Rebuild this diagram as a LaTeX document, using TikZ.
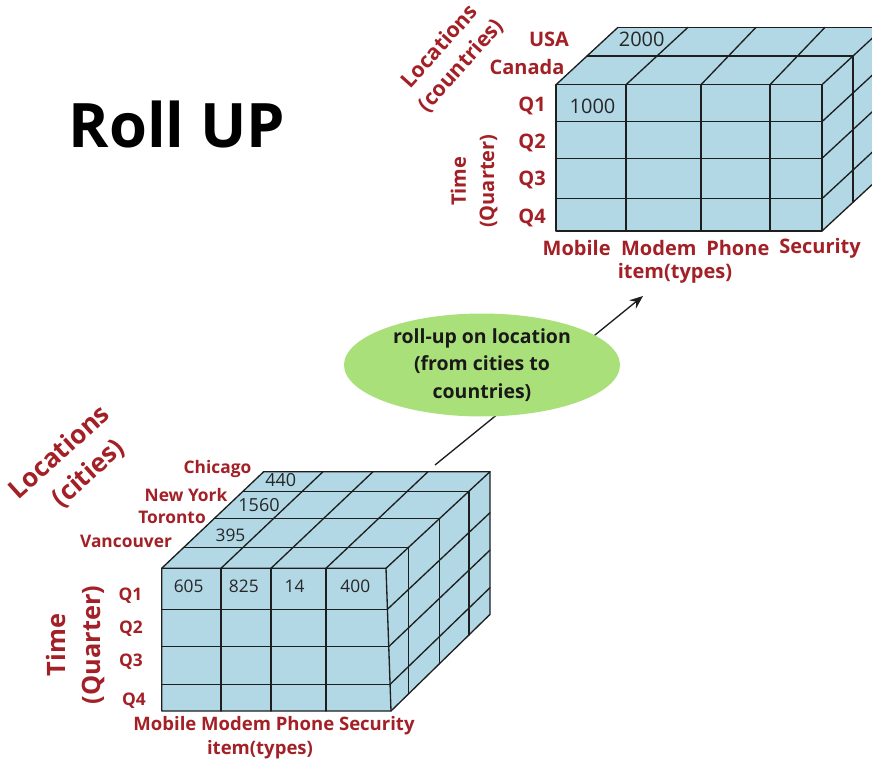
\documentclass[tikz,border=0pt]{standalone}
\usepackage{fontspec}
\setmainfont{Open Sans}
\usetikzlibrary{shapes.geometric,arrows.meta}
\definecolor{labred}{RGB}{163,32,38}
\definecolor{cubeblue}{RGB}{178,216,230}
\definecolor{ovalgreen}{RGB}{170,224,122}
\definecolor{edgecol}{RGB}{30,30,30}
\tikzset{
 cubeface/.style={fill=cubeblue},
 gridline/.style={draw=edgecol,line width=1pt,line join=round,line cap=round},
 lbl/.style={text=labred,inner sep=0pt,font=\bfseries\fontsize{#1pt}{#1pt}\selectfont},
 axlbl/.style 2 args={text=labred,inner sep=0pt,align=center,font=\bfseries\fontsize{#1pt}{#2pt}\selectfont},
 num/.style={text=black!85,inner sep=0pt,font=\fontsize{#1pt}{#1pt}\selectfont},
}
\begin{document}
\begin{tikzpicture}[x=0.75pt,y=-0.75pt]
\useasboundingbox (0,0) rectangle (872,761);
\clip (0,0) rectangle (872,761);
\fill[white] (0,0) rectangle (872,761);

% ---------------- top cube ----------------
\fill[cubeface] (556,84.7) rectangle (822,231);
\fill[cubeface] (556,84.7) -- (618,27.3) -- (884,27.3) -- (822,84.7) -- cycle;
\fill[cubeface] (822,84.7) -- (884,27.3) -- (884,173.6) -- (822,231) -- cycle;
\draw[gridline] (556,84.7) rectangle (822,231);
\foreach \x in {626,701,770} \draw[gridline] (\x,84.7) -- (\x,231);
\foreach \y in {121.7,158.3,198.7} \draw[gridline] (556,\y) -- (822,\y);
\draw[gridline] (618,27.3) -- (884,27.3);
\draw[gridline] (587,56) -- (853,56);
\draw[gridline] (556,84.7) -- (618,27.3);
\draw[gridline] (626,84.7) -- (688,27.3);
\draw[gridline] (701,84.7) -- (756,27.3);
\draw[gridline] (770,84.7) -- (825,27.3);
\draw[gridline] (822,84.7) -- (884,27.3);
\foreach \y in {121.7,158.3,198.7,231} \draw[gridline] (822,\y) -- (884,\y-57.4);
\draw[gridline] (853,56) -- (853,202.3);

% ---------------- bottom cube ----------------
\fill[cubeface] (161.7,568.3) -- (386,568.3) -- (391,711) -- (161.7,711) -- cycle;
\fill[cubeface] (161.7,568.3) -- (263.7,471.7) -- (490,471.7) -- (386,568.3) -- cycle;
\fill[cubeface] (386,568.3) -- (490,471.7) -- (490,614.4) -- (391,711) -- cycle;
\draw[gridline] (161.7,568.3) -- (386,568.3) -- (391,711) -- (161.7,711) -- cycle;
\foreach \x in {221,271,326} \draw[gridline] (\x,568.3) -- (\x,711);
\draw[gridline] (161.7,609.3) -- (387.4,609.3);
\draw[gridline] (161.7,646.7) -- (388.7,646.7);
\draw[gridline] (161.7,684.3) -- (390.1,684.3);
% top face
\draw[gridline] (161.7,568.3) -- (263.7,471.7) -- (490,471.7);
\draw[gridline] (183.9,547.3) -- (408.6,547.3);
\draw[gridline] (214.0,518.8) -- (439.3,518.8);
\draw[gridline] (243.0,491.3) -- (468.9,491.3);
\draw[gridline] (221,568.3) -- (323,471.7);
\draw[gridline] (271,568.3) -- (373,471.7);
\draw[gridline] (326,568.3) -- (428,471.7);
\draw[gridline] (386,568.3) -- (490,471.7);
% right face
\draw[gridline] (490,471.7) -- (490,614.4) -- (391,711);
\draw[gridline] (408.6,547.3) -- (408.6,693.8);
\draw[gridline] (439.3,518.8) -- (439.3,663.9);
\draw[gridline] (468.9,491.3) -- (468.9,635.0);
\draw[gridline] (387.4,609.3) -- (490,512.7);
\draw[gridline] (388.7,646.7) -- (490,550.1);
\draw[gridline] (390.1,684.3) -- (490,587.7);

% ---------------- arrow and oval ----------------
\coordinate (astart) at (435,465);
\coordinate (aend) at (643,296);
\draw[draw=edgecol,line width=1pt,-{Stealth[length=10pt,width=8pt]}] (astart) -- (aend);
\node[ellipse,fill=ovalgreen,minimum width=207pt,minimum height=71pt,inner sep=0pt,
      align=center,text=black!90,font=\bfseries\fontsize{14.6pt}{20.6pt}\selectfont]
      (oval) at (482,365) {roll-up on location\\(from cities to\\countries)};

% ---------------- title ----------------
\node[inner sep=0pt,font=\bfseries\fontsize{46pt}{46pt}\selectfont] (title) at (177,124) {Roll UP};

% ---------------- top cube labels ----------------
\node[lbl=15] (usa) at (549,39) {USA};
\node[lbl=15] (canada) at (527,66.5) {Canada};
\node[lbl=15] (tq1) at (532,105.7) {Q1};
\node[lbl=15] (tq2) at (532,143.3) {Q2};
\node[lbl=15] (tq3) at (532,180) {Q3};
\node[lbl=15] (tq4) at (532,218.3) {Q4};
\node[lbl=15] (tmob) at (576.7,248.3) {Mobile};
\node[lbl=15] (tmod) at (658.8,248.3) {Modem};
\node[lbl=15] (tpho) at (737.8,248.3) {Phone};
\node[lbl=15] (tsec) at (820,248.3) {Security};
\node[lbl=15] (titem) at (675,273.3) {item(types)};
\node[axlbl={15}{21.2},rotate=90] (ttime) at (474.2,181.2) {Time\\(Quarter)};
\node[axlbl={16}{21.5},rotate=48] (tloc) at (450.4,56.3) {Locations\\(countries)};
\node[num=15] (n2000) at (641.7,39.5) {2000};
\node[num=15] (n1000) at (592.5,106) {1000};

% ---------------- bottom cube labels ----------------
\node[lbl=13] (chi) at (217.5,469) {Chicago};
\node[lbl=13] (ny) at (186,495) {New York};
\node[lbl=13] (tor) at (172,517.3) {Toronto};
\node[lbl=13] (van) at (126,541.7) {Vancouver};
\node[lbl=13] (bq1) at (130.5,596) {Q1};
\node[lbl=13] (bq2) at (131,628.7) {Q2};
\node[lbl=13] (bq3) at (131,661.7) {Q3};
\node[lbl=13] (bq4) at (134,700.7) {Q4};
\node[lbl=13.9] (bitems) at (274,726) {Mobile Modem Phone Security};
\node[lbl=13.9] (bitem) at (260,750) {item(types)};
\node[axlbl={19}{26},rotate=90] (btime) at (75.7,645) {Time\\(Quarter)};
\node[axlbl={19.5}{26.2},rotate=42] (bloc) at (71.3,465.4) {Locations\\\hspace*{11pt}(cities)};
\node[num=13.5] (n440) at (280.8,480) {440};
\node[num=13.5] (n1560) at (259,505) {1560};
\node[num=13] (n395) at (230.5,535) {395};
\node[num=13] (n605) at (188.7,586.7) {605};
\node[num=13] (n825) at (243.8,586.7) {825};
\node[num=13] (n14) at (294.5,586.7) {14};
\node[num=13] (n400) at (355.3,586.7) {400};
\end{tikzpicture}
\end{document}
